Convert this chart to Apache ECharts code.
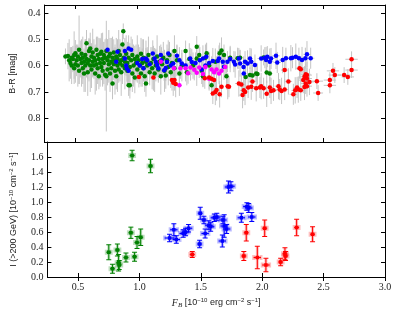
<!DOCTYPE html>
<html><head><meta charset="utf-8">
<script src="https://cdn.jsdelivr.net/npm/echarts@6/dist/echarts.min.js"></script>
<style>html,body{margin:0;padding:0;background:#fff}#c{width:398px;height:310px}</style>
</head><body><div id="c"></div>
<script>
// ---- tick labels ----
const xTicks = [0.5, 1.0, 1.5, 2.0, 2.5, 3.0];
const colorTicks = [0.4, 0.5, 0.6, 0.7, 0.8];
const fluxTicks = [0.0, 0.2, 0.4, 0.6, 0.8, 1.0, 1.2, 1.4, 1.6];

// ---- top panel: [F_B, B-R, xerr, yerr] ----
const optGreen = [
[0.42,0.565,0.02,0.03],[0.44,0.564,0.01,0.05],[0.45,0.58,0.01,0.08],[0.46,0.59,0.01,0.06],[0.47,0.57,0.01,0.04],
[0.47,0.60,0.01,0.07],[0.48,0.575,0.01,0.05],[0.49,0.56,0.01,0.09],[0.49,0.61,0.01,0.06],[0.50,0.553,0.01,0.05],
[0.50,0.595,0.01,0.07],[0.51,0.58,0.01,0.06],[0.52,0.565,0.01,0.04],[0.52,0.60,0.01,0.08],[0.53,0.54,0.01,0.13],
[0.53,0.62,0.01,0.05],[0.54,0.575,0.01,0.07],[0.55,0.59,0.01,0.09],[0.55,0.555,0.01,0.04],[0.56,0.61,0.01,0.06],
[0.56,0.57,0.01,0.08],[0.57,0.585,0.01,0.05],[0.57,0.63,0.01,0.07],[0.58,0.56,0.01,0.06],[0.58,0.60,0.01,0.1],
[0.59,0.515,0.01,0.05],[0.59,0.575,0.01,0.07],[0.60,0.59,0.01,0.06],[0.60,0.625,0.01,0.09],[0.61,0.545,0.01,0.05],
[0.61,0.58,0.01,0.08],[0.62,0.535,0.01,0.06],[0.62,0.60,0.01,0.1],[0.63,0.565,0.01,0.05],[0.63,0.615,0.01,0.07],
[0.64,0.585,0.01,0.06],[0.64,0.55,0.01,0.09],[0.65,0.60,0.01,0.05],[0.65,0.57,0.01,0.07],[0.66,0.63,0.01,0.08],
[0.66,0.58,0.01,0.06],[0.67,0.54,0.01,0.05],[0.67,0.595,0.01,0.1],[0.68,0.56,0.01,0.07],[0.68,0.61,0.01,0.06],
[0.69,0.575,0.01,0.08],[0.69,0.64,0.01,0.05],[0.70,0.59,0.01,0.09],[0.70,0.555,0.01,0.06],[0.71,0.547,0.01,0.07],
[0.71,0.605,0.01,0.05],[0.72,0.575,0.01,0.1],[0.72,0.62,0.01,0.06],[0.73,0.59,0.01,0.08],[0.73,0.56,0.01,0.05],
[0.74,0.57,0.01,0.07],[0.74,0.635,0.01,0.06],[0.75,0.64,0.01,0.21],[0.75,0.545,0.01,0.05],[0.76,0.58,0.01,0.08],
[0.76,0.615,0.01,0.06],[0.77,0.565,0.01,0.1],[0.77,0.595,0.01,0.05],[0.78,0.63,0.01,0.07],[0.78,0.555,0.01,0.06],
[0.79,0.585,0.01,0.09],[0.79,0.61,0.01,0.05],[0.80,0.668,0.01,0.06],[0.80,0.57,0.01,0.08],[0.81,0.595,0.01,0.06],
[0.81,0.55,0.01,0.05],[0.82,0.62,0.01,0.09],[0.82,0.58,0.01,0.06],[0.83,0.565,0.01,0.07],[0.83,0.64,0.01,0.05],
[0.84,0.60,0.01,0.1],[0.84,0.575,0.01,0.06],[0.85,0.545,0.01,0.08],[0.85,0.615,0.01,0.05],[0.86,0.59,0.01,0.07],
[0.86,0.56,0.01,0.06],[0.87,0.625,0.01,0.09],[0.87,0.58,0.01,0.05],[0.88,0.52,0.01,0.04],[0.887,0.47,0.01,0.03],
[0.88,0.60,0.01,0.07],[0.89,0.57,0.01,0.06],[0.90,0.61,0.01,0.08],[0.90,0.585,0.01,0.05],[0.91,0.555,0.01,0.07],
[0.92,0.62,0.01,0.06],[0.93,0.675,0.01,0.04],[0.94,0.675,0.01,0.05],[0.92,0.59,0.01,0.08],[0.93,0.57,0.01,0.06],
[0.94,0.605,0.01,0.09],[0.95,0.58,0.01,0.05],[0.96,0.63,0.01,0.07],[0.96,0.56,0.01,0.06],[0.97,0.60,0.01,0.08],
[0.98,0.575,0.01,0.05],[0.98,0.645,0.01,0.06],[0.99,0.59,0.01,0.07],[1.00,0.615,0.01,0.05],[1.00,0.565,0.01,0.08],
[1.01,0.58,0.01,0.06],[1.02,0.60,0.01,0.07],[1.03,0.63,0.01,0.05],[1.03,0.555,0.01,0.06],[1.04,0.59,0.01,0.09],
[1.05,0.61,0.01,0.05],[1.05,0.57,0.01,0.07],[1.06,0.64,0.01,0.06],[1.07,0.668,0.01,0.05],[1.07,0.585,0.01,0.08],
[1.08,0.60,0.01,0.06],[1.09,0.56,0.01,0.07],[1.10,0.625,0.01,0.05],[1.11,0.59,0.01,0.06],[1.12,0.61,0.01,0.08],
[1.13,0.575,0.01,0.05],[1.14,0.63,0.01,0.07],[1.15,0.60,0.01,0.06],[1.16,0.565,0.01,0.08],[1.17,0.615,0.01,0.05],
[1.18,0.585,0.01,0.06],[1.19,0.64,0.01,0.07],[1.20,0.595,0.01,0.05],[1.21,0.57,0.01,0.06],[1.22,0.62,0.01,0.08],
[1.23,0.638,0.01,0.05],[1.24,0.58,0.01,0.06],[1.25,0.605,0.01,0.07],[1.26,0.56,0.01,0.05],[1.27,0.625,0.01,0.06],
[1.28,0.59,0.01,0.05],[1.30,0.545,0.01,0.06],[1.30,0.61,0.01,0.05],[1.32,0.58,0.01,0.06],[1.34,0.63,0.01,0.05],
[1.36,0.60,0.01,0.06],[1.39,0.545,0.01,0.04],[1.40,0.625,0.01,0.05],[1.42,0.575,0.01,0.06],[1.45,0.60,0.01,0.05],
[1.48,0.528,0.01,0.04],[1.48,0.573,0.01,0.05],[1.50,0.56,0.01,0.04],[1.52,0.62,0.01,0.05],[1.53,0.64,0.01,0.04],
[1.55,0.57,0.01,0.05],[1.56,0.553,0.01,0.04],[1.58,0.60,0.01,0.05],[1.60,0.675,0.01,0.04],[1.63,0.585,0.01,0.05],
[1.665,0.553,0.01,0.04],[1.68,0.543,0.01,0.05],[1.70,0.56,0.01,0.04],[1.72,0.64,0.01,0.05],[1.75,0.57,0.01,0.04],
[1.81,0.572,0.02,0.04],[1.83,0.57,0.02,0.03],[1.875,0.643,0.02,0.04],[1.91,0.636,0.02,0.03],[1.93,0.638,0.02,0.04],
[1.96,0.63,0.02,0.03],[1.97,0.632,0.02,0.04],[2.02,0.569,0.02,0.03],[2.045,0.626,0.02,0.04],[2.07,0.63,0.02,0.03]
];
const optBlue = [
[0.76,0.54,0.01,0.04],[0.83,0.585,0.01,0.05],[0.84,0.547,0.01,0.04],[0.90,0.545,0.01,0.05],[0.91,0.60,0.01,0.04],
[0.93,0.535,0.01,0.05],[0.93,0.62,0.01,0.04],[0.95,0.54,0.01,0.05],[0.90,0.573,0.01,0.04],[0.916,0.611,0.01,0.05],
[1.00,0.59,0.02,0.04],[1.02,0.60,0.02,0.05],[1.04,0.575,0.02,0.04],[1.05,0.61,0.02,0.05],[1.07,0.573,0.02,0.04],
[1.08,0.58,0.02,0.05],[1.10,0.595,0.02,0.04],[1.125,0.554,0.02,0.05],[1.14,0.573,0.02,0.04],[1.15,0.586,0.02,0.05],
[1.16,0.598,0.02,0.04],[1.17,0.61,0.02,0.05],[1.19,0.56,0.02,0.04],[1.195,0.58,0.02,0.05],[1.217,0.618,0.02,0.04],
[1.23,0.609,0.02,0.05],[1.24,0.586,0.02,0.04],[1.25,0.554,0.02,0.05],[1.27,0.60,0.02,0.04],[1.29,0.592,0.02,0.05],
[1.32,0.563,0.02,0.04],[1.34,0.58,0.02,0.05],[1.36,0.592,0.02,0.04],[1.39,0.60,0.02,0.05],[1.427,0.573,0.02,0.04],
[1.44,0.586,0.02,0.05],[1.47,0.59,0.02,0.04],[1.505,0.58,0.02,0.05],[1.52,0.615,0.02,0.04],[1.53,0.573,0.02,0.05],
[1.55,0.60,0.02,0.04],[1.557,0.566,0.02,0.05],[1.58,0.59,0.02,0.04],[1.61,0.583,0.02,0.05],[1.65,0.583,0.02,0.04],
[1.66,0.573,0.02,0.05],[1.69,0.585,0.02,0.04],[1.70,0.604,0.02,0.05],[1.728,0.585,0.02,0.04],[1.75,0.575,0.02,0.05],
[1.78,0.585,0.02,0.04],[1.79,0.596,0.02,0.05],[1.82,0.573,0.02,0.04],[1.83,0.592,0.02,0.05],[1.858,0.605,0.02,0.04],
[1.86,0.63,0.02,0.05],[1.87,0.585,0.02,0.04],[1.89,0.592,0.02,0.05],[1.91,0.573,0.02,0.04],[1.92,0.585,0.02,0.05],
[1.95,0.598,0.02,0.04],[2.00,0.573,0.03,0.05],[2.03,0.57,0.03,0.04],[2.04,0.579,0.03,0.05],[2.05,0.566,0.03,0.04],
[2.07,0.585,0.03,0.05],[2.08,0.573,0.03,0.04],[2.12,0.563,0.03,0.05],[2.13,0.588,0.03,0.04],[2.174,0.579,0.03,0.05],
[2.20,0.572,0.03,0.04],[2.24,0.572,0.03,0.05],[2.253,0.57,0.03,0.04],[2.28,0.566,0.03,0.05],[2.305,0.572,0.03,0.04],
[2.33,0.579,0.03,0.05],[2.357,0.572,0.03,0.04],[2.37,0.557,0.03,0.05],[2.40,0.572,0.03,0.04]
];
const optMagenta = [
[1.19,0.585,0.02,0.04],[1.296,0.61,0.02,0.05],[1.348,0.61,0.02,0.04],[1.39,0.61,0.02,0.05],[1.41,0.629,0.02,0.04],
[1.43,0.607,0.02,0.05],[1.46,0.616,0.02,0.04],[1.48,0.627,0.02,0.05],[1.50,0.607,0.02,0.04],[1.53,0.632,0.02,0.05],
[1.34,0.675,0.02,0.04],[1.55,0.605,0.02,0.05],[1.58,0.65,0.02,0.04],[1.60,0.615,0.02,0.05],[1.62,0.625,0.02,0.04],
[1.64,0.615,0.02,0.05],[1.66,0.63,0.02,0.04],[1.68,0.62,0.02,0.05],[1.71,0.605,0.02,0.04]
];
const optRed = [
[1.013,0.643,0.02,0.04],[1.13,0.645,0.02,0.05],[1.28,0.655,0.02,0.04],[1.29,0.665,0.02,0.05],[1.30,0.655,0.02,0.04],
[1.31,0.67,0.02,0.05],[1.545,0.648,0.02,0.04],[1.58,0.645,0.02,0.05],[1.60,0.65,0.02,0.04],[1.62,0.655,0.02,0.05],
[1.61,0.706,0.02,0.04],[1.63,0.70,0.02,0.05],[1.64,0.693,0.02,0.04],[1.665,0.709,0.02,0.05],[1.68,0.68,0.02,0.04],
[1.73,0.678,0.02,0.05],[1.74,0.68,0.02,0.04],[1.82,0.668,0.03,0.05],[1.84,0.672,0.03,0.04],[1.85,0.712,0.03,0.05],
[1.86,0.694,0.03,0.04],[1.87,0.70,0.03,0.05],[1.895,0.683,0.03,0.04],[1.92,0.68,0.03,0.05],[1.93,0.66,0.03,0.04],
[1.96,0.686,0.03,0.05],[1.99,0.683,0.03,0.04],[2.00,0.678,0.03,0.05],[2.02,0.686,0.03,0.04],[2.045,0.707,0.03,0.05],
[2.07,0.683,0.03,0.04],[2.08,0.696,0.03,0.05],[2.10,0.694,0.03,0.04],[2.14,0.678,0.03,0.05],[2.15,0.691,0.03,0.04],
[2.165,0.696,0.03,0.05],[2.19,0.691,0.03,0.04],[2.22,0.66,0.03,0.05],[2.26,0.709,0.03,0.04],[2.275,0.694,0.03,0.05],
[2.29,0.683,0.03,0.04],[2.30,0.691,0.03,0.05],[2.32,0.694,0.03,0.04],[2.19,0.617,0.03,0.05],[2.31,0.61,0.03,0.04],
[2.32,0.614,0.03,0.05],[2.36,0.633,0.04,0.04],[2.37,0.636,0.04,0.05],[2.35,0.642,0.04,0.04],[2.34,0.655,0.04,0.05],
[2.37,0.649,0.04,0.04],[2.39,0.662,0.04,0.05],[2.36,0.668,0.04,0.04],[2.35,0.681,0.04,0.05],[2.37,0.678,0.04,0.04],
[2.45,0.659,0.05,0.03],[2.46,0.704,0.04,0.03],[2.555,0.655,0.05,0.03],[2.555,0.675,0.05,0.03],[2.58,0.62,0.05,0.03],
[2.595,0.636,0.05,0.03],[2.67,0.636,0.05,0.03],[2.70,0.643,0.05,0.03],[2.73,0.576,0.05,0.03],[2.73,0.617,0.05,0.03]
];

// ---- bottom panel: [F_B, I(>200 GeV), xerr, yerr] ----
const vheGreen = [
[0.75,0.33,0.02,0.10],[0.78,0.11,0.02,0.06],[0.82,0.36,0.02,0.08],[0.83,0.19,0.02,0.11],[0.835,0.16,0.02,0.06],
[0.89,0.26,0.02,0.06],[0.93,0.59,0.02,0.075],[0.96,0.27,0.02,0.06],[0.98,0.46,0.02,0.08],[1.01,0.53,0.02,0.11],
[0.94,1.62,0.02,0.07],[1.09,1.48,0.02,0.09]
];
const vheBlue = [
[1.245,0.52,0.04,0.05],[1.28,0.63,0.03,0.08],[1.30,0.50,0.03,0.05],[1.356,0.58,0.03,0.05],[1.375,0.60,0.03,0.05],
[1.40,0.65,0.03,0.05],[1.49,0.44,0.02,0.05],[1.495,0.85,0.02,0.08],[1.525,0.76,0.02,0.05],[1.535,0.58,0.03,0.06],
[1.565,0.69,0.03,0.06],[1.58,0.67,0.03,0.06],[1.61,0.79,0.03,0.05],[1.63,0.80,0.03,0.05],[1.68,0.76,0.03,0.05],
[1.69,0.68,0.03,0.15],[1.71,0.64,0.03,0.06],[1.675,0.48,0.03,0.08],[1.725,1.20,0.03,0.08],[1.745,1.21,0.03,0.06],
[1.83,0.79,0.03,0.06],[1.875,0.94,0.03,0.05],[1.89,0.92,0.03,0.06],[1.915,0.80,0.03,0.06]
];
const vheRed = [
[1.43,0.30,0.02,0.04],[1.85,0.28,0.02,0.06],[1.87,0.59,0.02,0.11],[1.96,0.26,0.03,0.15],[2.02,0.65,0.02,0.11],
[2.03,0.16,0.03,0.09],[2.15,0.20,0.02,0.05],[2.185,0.31,0.02,0.08],[2.19,0.28,0.02,0.06],[2.28,0.66,0.02,0.11],
[2.41,0.57,0.02,0.10]
];

const GREEN = '#008000', BLUE = '#0000ff', MAGENTA = '#ff00ff', RED = '#ff0000';
const SERIF = 'Liberation Serif', SANS = 'Liberation Sans';

function greyBars(params, api) {
  const x = api.value(0), y = api.value(1), ex = api.value(2), ey = api.value(3);
  const a = api.coord([x, y - ey]), b = api.coord([x, y + ey]);
  const c = api.coord([x - ex, y]), d = api.coord([x + ex, y]);
  const st = {stroke: '#c4c4c4', lineWidth: 1};
  return {type: 'group', children: [
    {type: 'line', shape: {x1: a[0], y1: a[1], x2: b[0], y2: b[1]}, style: st},
    {type: 'line', shape: {x1: c[0], y1: c[1], x2: d[0], y2: d[1]}, style: st}
  ]};
}
function colorBars(color) {
  return function (params, api) {
    const x = api.value(0), y = api.value(1), ex = api.value(2), ey = api.value(3);
    const a = api.coord([x, y - ey]), b = api.coord([x, y + ey]);
    const c = api.coord([x - ex, y]), d = api.coord([x + ex, y]);
    const cap = 2.5;
    const halo = {stroke: color, lineWidth: 3, opacity: 0.25};
    const main = {stroke: color, lineWidth: 1};
    const L = (x1, y1, x2, y2, s) => ({type: 'line', shape: {x1, y1, x2, y2}, style: s});
    return {type: 'group', children: [
      L(a[0], a[1], b[0], b[1], halo), L(c[0], c[1], d[0], d[1], halo),
      L(a[0], a[1], b[0], b[1], main), L(c[0], c[1], d[0], d[1], main),
      L(a[0] - cap, a[1], a[0] + cap, a[1], main), L(b[0] - cap, b[1], b[0] + cap, b[1], main),
      L(c[0], c[1] - cap, c[0], c[1] + cap, halo), L(d[0], d[1] - cap, d[0], d[1] + cap, halo)
    ]};
  };
}

const tickStyle = {show: true, inside: true, length: 4, lineStyle: {color: '#000', width: 1}};
const lineStyle = {show: true, lineStyle: {color: '#000', width: 1}};
const labelStyle = {fontFamily: SERIF, fontSize: 10, color: '#222'};

function xAx(grid, pos, labels) {
  return {
    type: 'value', gridIndex: grid, position: pos, min: 0.25, max: 3.0,
    axisLine: lineStyle, splitLine: {show: false},
    axisTick: Object.assign({customValues: xTicks}, tickStyle),
    axisLabel: labels ? Object.assign({show: true, customValues: xTicks, margin: 5,
      formatter: v => v.toFixed(1)}, labelStyle) : {show: false}
  };
}
function yAx(grid, pos, labels, min, max, ticks, inverse) {
  return {
    type: 'value', gridIndex: grid, position: pos, min: min, max: max, inverse: !!inverse,
    axisLine: lineStyle, splitLine: {show: false},
    axisTick: Object.assign({customValues: ticks}, tickStyle),
    axisLabel: labels ? Object.assign({show: true, customValues: ticks, margin: 4,
      formatter: v => v.toFixed(1)}, labelStyle) : {show: false}
  };
}

const xAxes = [xAx(0, 'bottom', false), xAx(0, 'top', false), xAx(1, 'bottom', true), xAx(1, 'top', false)];
xAxes[2].name = '{i|F}{sub|B} [10{sup|−10} erg cm{sup|−2} s{sup|−1}]';
xAxes[2].nameLocation = 'middle';
xAxes[2].nameGap = 20;
xAxes[2].nameTextStyle = {fontFamily: SANS, fontSize: 9, color: '#222', lineHeight: 12,
  rich: {i: {fontFamily: SERIF, fontStyle: 'italic', fontSize: 10, lineHeight: 12},
         sub: {fontFamily: SERIF, fontStyle: 'italic', fontSize: 7, verticalAlign: 'bottom', lineHeight: 12},
         sup: {fontFamily: SANS, fontSize: 6, verticalAlign: 'top', lineHeight: 12}}};

const yAxes = [
  yAx(0, 'left', true, 0.37, 0.89, colorTicks, true), yAx(0, 'right', false, 0.37, 0.89, colorTicks, true),
  yAx(1, 'left', true, 0, 1.8, fluxTicks, false), yAx(1, 'right', false, 0, 1.8, fluxTicks, false)
];
yAxes[0].name = 'B-R [mag]';
yAxes[0].nameLocation = 'middle';
yAxes[0].nameGap = 23;
yAxes[0].nameTextStyle = {fontFamily: SANS, fontSize: 9, color: '#222'};
yAxes[2].name = 'I (>200 GeV) [10{sup|−10} cm{sup|−2} s{sup|−1}]';
yAxes[2].nameLocation = 'middle';
yAxes[2].nameGap = 23;
yAxes[2].nameTextStyle = {fontFamily: SANS, fontSize: 9, color: '#222', lineHeight: 12,
  rich: {sup: {fontFamily: SANS, fontSize: 6, verticalAlign: 'top', lineHeight: 12}}};

const series = [];
[optGreen, optBlue, optMagenta, optRed].forEach(d => series.push({
  type: 'custom', xAxisIndex: 0, yAxisIndex: 0, renderItem: greyBars, data: d,
  encode: {x: 0, y: 1}, clip: true, silent: true, z: 1
}));
[[optGreen, GREEN], [optBlue, BLUE], [optMagenta, MAGENTA], [optRed, RED]].forEach(([d, c]) => series.push({
  type: 'scatter', xAxisIndex: 0, yAxisIndex: 0, data: d, encode: {x: 0, y: 1},
  symbol: 'circle', symbolSize: 4.5, itemStyle: {color: c, opacity: 1}, clip: true, z: 3
}));
[[vheGreen, GREEN], [vheBlue, BLUE], [vheRed, RED]].forEach(([d, c]) => {
  series.push({type: 'custom', xAxisIndex: 2, yAxisIndex: 2, renderItem: colorBars(c), data: d,
    encode: {x: 0, y: 1}, clip: true, silent: true, z: 2});
  series.push({type: 'scatter', xAxisIndex: 2, yAxisIndex: 2, data: d, encode: {x: 0, y: 1},
    symbol: 'rect', symbolSize: 3.5, itemStyle: {color: c, opacity: 1}, clip: true, z: 3});
});

const chart = echarts.init(document.getElementById('c'), null, {renderer: 'canvas'});
chart.setOption({
  animation: false,
  backgroundColor: '#fff',
  grid: [{left: 35, right: 13, top: 5, height: 137}, {left: 35, right: 13, top: 142, height: 135}],
  xAxis: xAxes,
  yAxis: yAxes,
  series: series
});
</script>
</body></html>
